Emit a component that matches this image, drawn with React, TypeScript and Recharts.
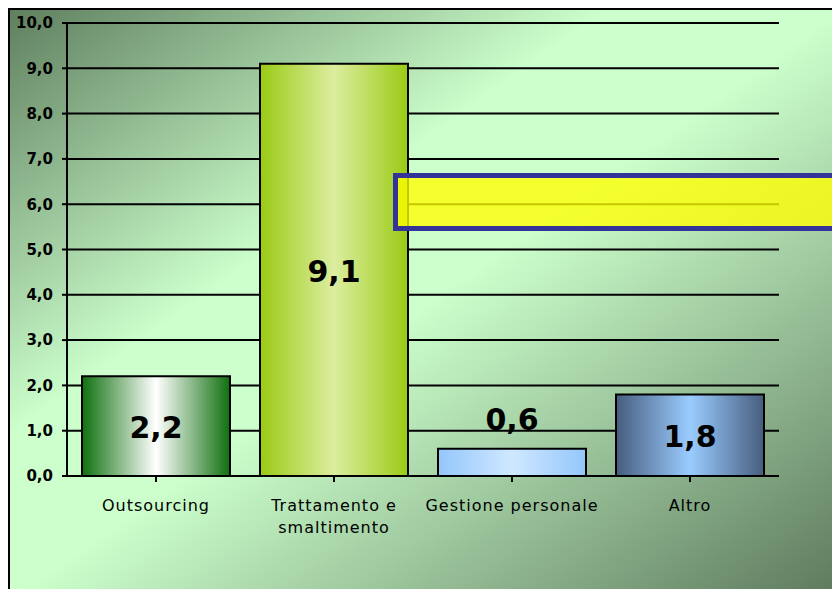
import React from "react";
import { BarChart, Bar, XAxis, YAxis, CartesianGrid, Cell, LabelList } from "recharts";

const categories = ["Outsourcing", "Trattamento e smaltimento", "Gestione personale", "Altro"];
const values = [2.2, 9.1, 0.6, 1.8];
const yTicks = [0, 1, 2, 3, 4, 5, 6, 7, 8, 9, 10];
const barGradients = [
  ["#0f700f", "#ffffff", "#0f700f"],
  ["#9acb14", "#dcedA0", "#9acb14"],
  ["#94c6fb", "#cfe8ff", "#94c6fb"],
  ["#475d7e", "#9accff", "#475d7e"],
];

const data = categories.map((name, i) => ({ name, value: values[i] }));
const fmt = (v: number) => v.toFixed(1).replace(".", ",");
const FONT = "'DejaVu Sans', Verdana, sans-serif";

const wrap = (label: string, maxChars: number) => {
  const words = String(label).split(" ");
  const lines: string[] = [];
  let cur = "";
  words.forEach((w) => {
    const next = cur ? cur + " " + w : w;
    if (next.length > maxChars && cur) {
      lines.push(cur);
      cur = w;
    } else {
      cur = next;
    }
  });
  if (cur) lines.push(cur);
  return lines;
};

const XTick = (props: any) => {
  const { x, y, payload } = props;
  const lines = wrap(payload.value, 20);
  return (
    <text
      x={x}
      y={y}
      textAnchor="middle"
      fontSize={16}
      fill="#000"
      fontFamily={FONT}
      style={{ letterSpacing: 1 }}
    >
      {lines.map((l, i) => (
        <tspan key={i} x={x} dy={i === 0 ? 21 : 22}>
          {l}
        </tspan>
      ))}
    </text>
  );
};

const ValueLabel = (props: any) => {
  const { x, y, width, height, value } = props;
  const cx = x + width / 2;
  const inside = height > 50;
  const baseline = inside ? y + height / 2 + 12 : y - 19;
  return (
    <text x={cx} y={baseline} textAnchor="middle" fontSize={30} fontWeight="bold" fontFamily={FONT} fill="#000">
      {fmt(value)}
    </text>
  );
};

export default function App() {
  return (
    <div style={{ position: "relative", width: 832, height: 589, overflow: "hidden", fontFamily: FONT }}>
      <style>{`body{margin:0;overflow:hidden;}`}</style>
      <div
        style={{
          position: "absolute",
          left: 8,
          top: 8,
          width: 830,
          height: 590,
          borderLeft: "2px solid #000",
          borderTop: "2px solid #000",
          background:
            "linear-gradient(to bottom right, #5f7f5f 0%, #ccffcc 36%, #ccffcc 50%, #5c785c 100%)",
        }}
      />
      <div style={{ position: "absolute", left: 0, top: 0 }}>
        <BarChart width={832} height={589} data={data} margin={{ top: 23, right: 53, left: 0, bottom: 83 }}>
          <defs>
            {barGradients.map((g, i) => (
              <linearGradient key={i} id={`bg${i}`} x1="0" y1="0" x2="1" y2="0">
                <stop offset="0%" stopColor={g[0]} />
                <stop offset="50%" stopColor={g[1]} />
                <stop offset="100%" stopColor={g[2]} />
              </linearGradient>
            ))}
          </defs>
          <CartesianGrid vertical={false} stroke="#000" strokeWidth={2} />
          <XAxis
            dataKey="name"
            interval={0}
            height={30}
            tickSize={6}
            tickMargin={8}
            axisLine={{ stroke: "#000", strokeWidth: 2 }}
            tickLine={{ stroke: "#000", strokeWidth: 2 }}
            tick={<XTick />}
          />
          <YAxis
            width={67}
            domain={[0, 10]}
            ticks={yTicks}
            interval={0}
            tickSize={5}
            tickMargin={9}
            tickFormatter={fmt}
            axisLine={{ stroke: "#000", strokeWidth: 2 }}
            tickLine={{ stroke: "#000", strokeWidth: 2 }}
            tick={{ fill: "#000", fontSize: 15, fontWeight: "bold", fontFamily: FONT }}
          />
          <Bar dataKey="value" barSize={148} stroke="#000" strokeWidth={2} isAnimationActive={false}>
            {data.map((d, i) => (
              <Cell key={d.name} fill={`url(#bg${i})`} />
            ))}
            <LabelList dataKey="value" content={<ValueLabel />} />
          </Bar>
        </BarChart>
      </div>
      <div
        style={{
          position: "absolute",
          left: 393,
          top: 173,
          width: 460,
          height: 48,
          border: "5px solid #333399",
          background: "rgba(255,255,0,0.78)",
        }}
      />
    </div>
  );
}
